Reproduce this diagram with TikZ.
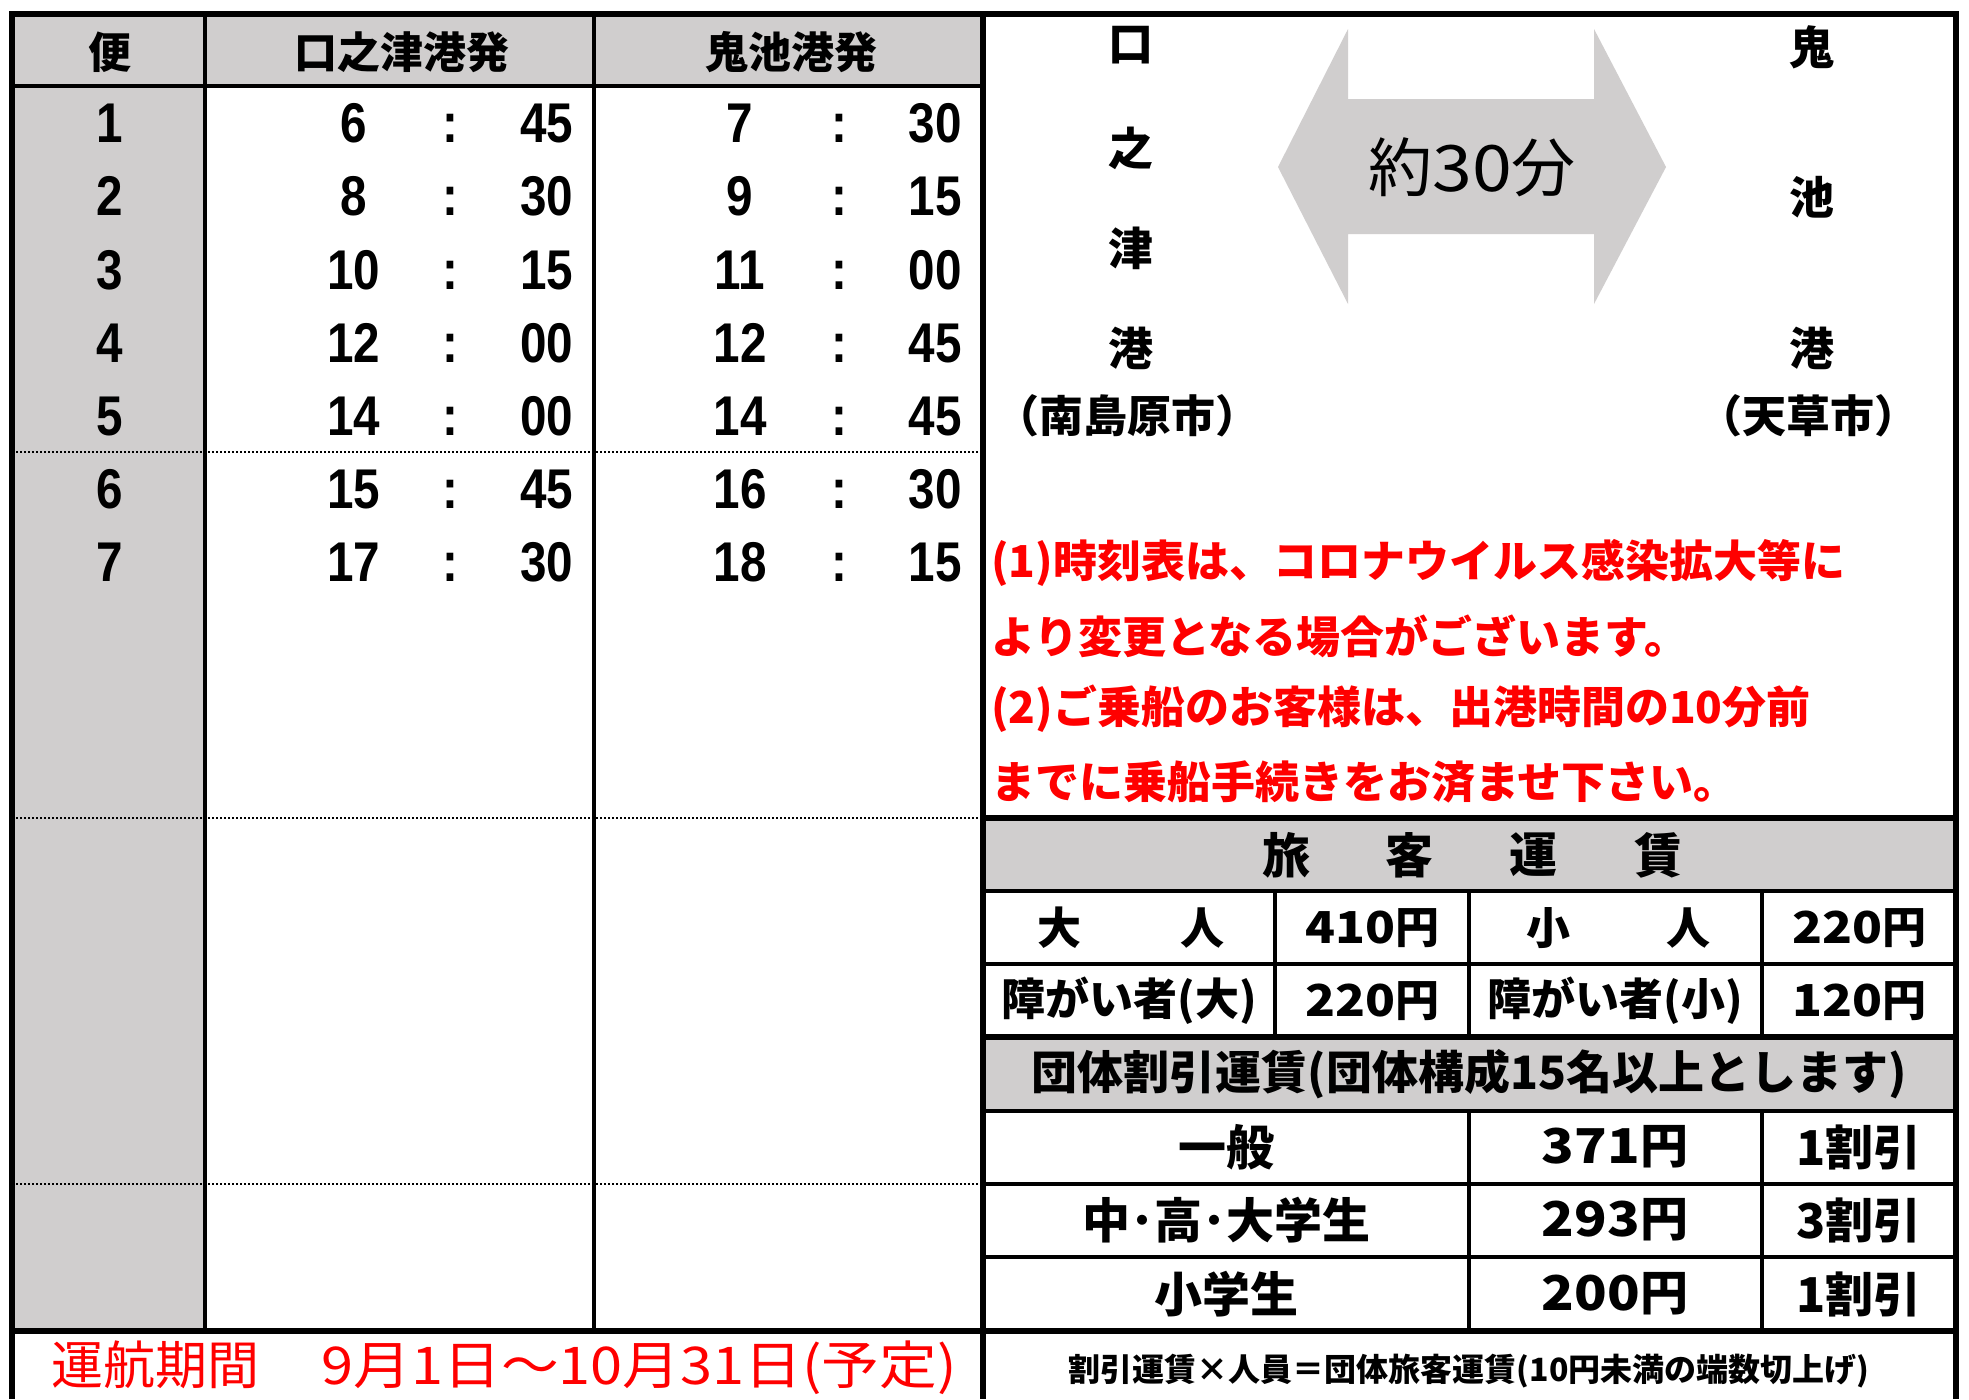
\documentclass[tikz,border=0pt]{standalone}
\usepackage{fontspec}
\usepackage{graphicx}
\setmainfont{Noto Sans CJK JP}
\newfontfamily\numfont{Liberation Sans}
\definecolor{cellgray}{RGB}{208,206,206}
\definecolor{notered}{RGB}{255,0,0}
\newcommand{\nrw}[1]{\scalebox{0.85}[1]{#1}}
\newcommand{\wdg}[1]{\scalebox{1.12}[1]{#1}}
\begin{document}
\begin{tikzpicture}[x=0.5pt,y=-0.5pt,
  every node/.style={inner sep=0pt,outer sep=0pt},
  thinline/.style={line width=1pt},
  midline/.style={line width=1.6pt},
  thickline/.style={line width=2.6pt},
  dotline/.style={line width=1pt,dash pattern=on 1pt off 1pt},
  hdr/.style={font=\bfseries\fontsize{21.5}{24}\selectfont},
  digit/.style={font=\numfont\bfseries\fontsize{28}{30}\selectfont,text height=20pt,text depth=0pt},
  vchar/.style={font=\bfseries\fontsize{22.5}{24}\selectfont},
  city/.style={font=\bfseries\fontsize{22}{24}\selectfont},
  note/.style={font=\bfseries\fontsize{22}{24}\selectfont,text=notered,anchor=west},
  farehd/.style={font=\bfseries\fontsize{24}{26}\selectfont},
  fare/.style={font=\bfseries\fontsize{22}{24}\selectfont},
  disc/.style={font=\bfseries\fontsize{24}{26}\selectfont},
  foot/.style={font=\bfseries\fontsize{16}{18}\selectfont},
  period/.style={font=\fontsize{26}{28}\selectfont,text=notered}]
\useasboundingbox (0,0) rectangle (1969,1399);
% fills
\fill[white] (0,0) rectangle (1969,1399);
\fill[cellgray] (12,14) rectangle (983,86);
\fill[cellgray] (12,86) rectangle (205,1331);
\fill[cellgray] (983,818) rectangle (1956,891);
\fill[cellgray] (983,1037) rectangle (1956,1111);
% double arrow
\fill[cellgray] (1278,167) -- (1348,29) -- (1348,99) -- (1594,99) -- (1594,29)
  -- (1666,167) -- (1594,304) -- (1594,234) -- (1348,234) -- (1348,304) -- cycle;
% left table lines
\draw[midline] (205,14) -- (205,1331);
\draw[midline] (594,14) -- (594,1331);
\draw[midline] (12,86) -- (983,86);
\draw[dotline] (12,452) -- (983,452);
\draw[dotline] (12,818) -- (983,818);
\draw[dotline] (12,1184) -- (983,1184);
\draw[thickline] (12,1331) -- (1956,1331);
% right table lines
\draw[thickline] (983,818) -- (1956,818);
\draw[midline] (983,891) -- (1956,891);
\draw[midline] (983,964) -- (1956,964);
\draw[thickline] (983,1037) -- (1956,1037);
\draw[midline] (983,1111) -- (1956,1111);
\draw[midline] (983,1184) -- (1956,1184);
\draw[midline] (983,1257) -- (1956,1257);
\draw[midline] (1275,891) -- (1275,1037);
\draw[midline] (1469,891) -- (1469,1037);
\draw[midline] (1762,891) -- (1762,1037);
\draw[midline] (1469,1111) -- (1469,1331);
\draw[midline] (1762,1111) -- (1762,1331);
% outer frame and main divider
\draw[thickline] (12,1399) -- (12,14) -- (1956,14) -- (1956,1399);
\draw[thickline] (983,14) -- (983,1399);
% header texts
\node[hdr] (hbin) at (110,52) {便};
\node[hdr] (hkuchi) at (402,52) {口之津港発};
\node[hdr] (honi) at (791,52) {鬼池港発};
% timetable rows
\foreach \i/\a/\b/\c/\d in {1/6/45/7/30,2/8/30/9/15,3/10/15/11/00,4/12/00/12/45,5/14/00/14/45,6/15/45/16/30,7/17/30/18/15}{
  \pgfmathsetmacro{\yy}{122.6+73.2*(\i-1)}
  \node[digit] (no\i) at (110,\yy) {\nrw{\i}};
  \node[digit] (ha\i) at (354,\yy) {\nrw{\a}};
  \node[digit] (ca\i) at (450,\yy) {\nrw{:}};
  \node[digit] (ma\i) at (547,\yy) {\nrw{\b}};
  \node[digit] (hb\i) at (740,\yy) {\nrw{\c}};
  \node[digit] (cb\i) at (839,\yy) {\nrw{:}};
  \node[digit] (mb\i) at (935,\yy) {\nrw{\d}};
}
% route panel
\node[vchar] (k1) at (1131,45) {口};
\node[vchar] (k2) at (1131,148) {之};
\node[vchar] (k3) at (1131,248) {津};
\node[vchar] (k4) at (1131,348) {港};
\node[city] (kc) at (1127,416) {（南島原市）};
\node[vchar] (o1) at (1812,47) {鬼};
\node[vchar] (o2) at (1812,197) {池};
\node[vchar] (o3) at (1812,348) {港};
\node[city] (oc) at (1808,416) {（天草市）};
\node[font=\fontsize{32}{34}\selectfont] (time) at (1472,167) {約\wdg{30}分};
% notes
\node[note] (nt1) at (991,563) {(1)時刻表は、コロナウイルス感染拡大等に};
\node[note] (nt2) at (991,636) {より変更となる場合がございます。};
\node[note] (nt3) at (991,709) {(2)ご乗船のお客様は、出港時間の10分前};
\node[note] (nt4) at (991,782) {までに乗船手続きをお済ませ下さい。};
% fare table
\node[farehd] (f1) at (1286,855) {旅};
\node[farehd] (f2) at (1409,855) {客};
\node[farehd] (f3) at (1533,855) {運};
\node[farehd] (f4) at (1658,855) {賃};
\node[fare] (ad1) at (1059,928) {大};
\node[fare] (ad2) at (1202,928) {人};
\node[fare] (adp) at (1372,928) {\wdg{410}円};
\node[fare] (ch1) at (1548,928) {小};
\node[fare] (ch2) at (1688,928) {人};
\node[fare] (chp) at (1859,928) {\wdg{220}円};
\node[fare] (da) at (1129,1001) {障がい者(大)};
\node[fare] (dap) at (1372,1001) {\wdg{220}円};
\node[fare] (dc) at (1615,1001) {障がい者(小)};
\node[fare] (dcp) at (1859,1001) {\wdg{120}円};
\node[fare,font=\bfseries\fontsize{23}{25}\selectfont] (grp) at (1469,1074) {団体割引運賃(団体構成15名以上とします)};
\node[disc] (g1) at (1226,1147) {一般};
\node[disc] (g1p) at (1615,1147) {\wdg{371}円};
\node[disc] (g1d) at (1859,1147) {1割引};
\node[disc] (g2) at (1226,1220) {中･高･大学生};
\node[disc] (g2p) at (1615,1220) {\wdg{293}円};
\node[disc] (g2d) at (1859,1220) {3割引};
\node[disc] (g3) at (1226,1294) {小学生};
\node[disc] (g3p) at (1615,1294) {\wdg{200}円};
\node[disc] (g3d) at (1859,1294) {1割引};
\node[foot] (ft) at (1469,1371) {割引運賃×人員＝団体旅客運賃(10円未満の端数切上げ)};
% operating period
\node[period] (per) at (504,1368) {運航期間\hspace{1.2em}\scalebox{1.11}[1]{9月1日～10月31日(予定)}};
\end{tikzpicture}
\end{document}
